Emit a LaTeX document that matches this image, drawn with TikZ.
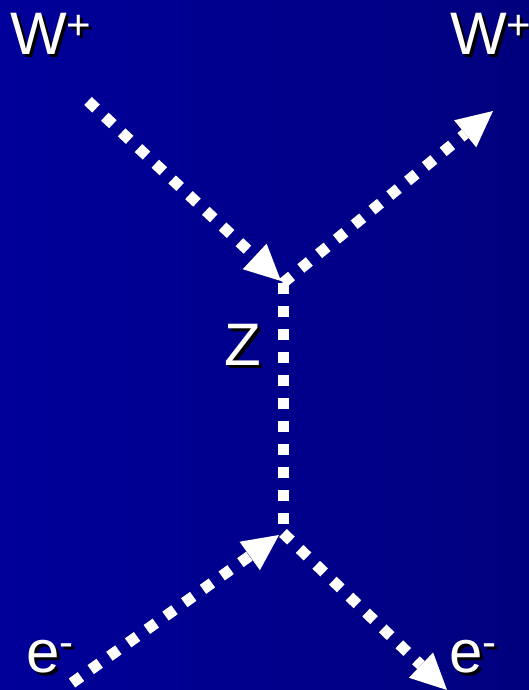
\documentclass[tikz,border=0pt]{standalone}
\usepackage{fontspec}
\setmainfont{Liberation Sans}
\usetikzlibrary{arrows.meta}

\definecolor{bgleft}{RGB}{0,0,154}
\definecolor{bgright}{RGB}{0,0,126}

% white label with a black drop shadow
\newcommand{\shadowlabel}[1]{\makebox[0pt][l]{\hspace{3pt}\raisebox{-3pt}{\color{black}#1}}#1}
% raised charge sign
\newcommand{\chargesign}[1]{\raisebox{15.5pt}{\fontsize{42}{42}\selectfont #1}}

\begin{document}
\begin{tikzpicture}[
    x=1pt, y=-1pt,
    particle/.style={text=white, inner sep=0pt, anchor=base west,
      font=\fontsize{60}{60}\selectfont},
    boson/.style={draw=white, line width=11pt, dash pattern=on 11pt off 12pt},
    flow/.style={boson, -{Triangle[length=36pt, width=35pt, line width=0pt]}}
]
\shade[left color=bgleft, right color=bgright] (0,0) rectangle (529,690);
\useasboundingbox (0,0) rectangle (529,690);

% vertices, arrow tips and free ends
\coordinate (top) at (283,283);
\coordinate (bot) at (283,533);
\coordinate (toptip) at (281,281);
\coordinate (bottip) at (279,535);
\coordinate (winend) at (88,101);
\coordinate (woutend) at (493,111);
\coordinate (einend) at (72,683);
\coordinate (eoutend) at (447,690);

% labels
\node[particle] (win) at (10,55) {\shadowlabel{W\chargesign{+}}};
\node[particle] (wout) at (450,55) {\shadowlabel{W\chargesign{+}}};
\node[particle] (z) at (224,365) {\shadowlabel{Z}};
\node[particle] (ein) at (26,672) {\shadowlabel{e\chargesign{-}}};
\node[particle] (eout) at (449,672) {\shadowlabel{e\chargesign{-}}};

% propagators
\draw[flow] (winend) -- (toptip);
\draw[flow] (top) -- (woutend);
\draw[boson] (top) -- (bot);
\draw[flow] (einend) -- (bottip);
\draw[flow] (bot) -- (eoutend);
\end{tikzpicture}
\end{document}
